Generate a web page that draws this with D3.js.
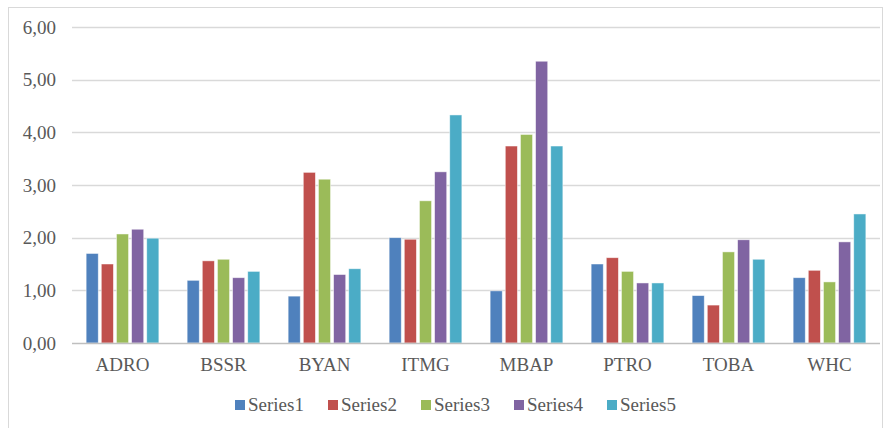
<!DOCTYPE html>
<html lang="en">
<head>
    <meta charset="UTF-8">
    <title>Clustered Bars</title>
    <script src="https://d3js.org/d3.v7.min.js"></script>
    <style>
        body {
            margin: 0;
            padding: 0;
            background-color: #fff;
            overflow: hidden;
        }
        svg text {
            font-family: "Liberation Serif", "Times New Roman", Times, "DejaVu Serif", serif !important;
            fill: #595959;
        }
    </style>
</head>
<body>
    <div id="chart"></div>

    <script>
        // Data
        const categories = ["ADRO", "BSSR", "BYAN", "ITMG", "MBAP", "PTRO", "TOBA", "WHC"];
        const seriesNames = ["Series1", "Series2", "Series3", "Series4", "Series5"];
        const series1 = [1.70, 1.19, 0.89, 2.00, 0.99, 1.50, 0.90, 1.24];
        const series2 = [1.50, 1.56, 3.24, 1.97, 3.74, 1.62, 0.72, 1.38];
        const series3 = [2.07, 1.59, 3.11, 2.70, 3.96, 1.36, 1.73, 1.16];
        const series4 = [2.16, 1.24, 1.30, 3.25, 5.35, 1.14, 1.96, 1.92];
        const series5 = [1.99, 1.36, 1.41, 4.33, 3.74, 1.14, 1.59, 2.45];
        const yTicks = [0, 1, 2, 3, 4, 5, 6];

        const allSeries = [series1, series2, series3, series4, series5];
        const colors = ["#4F81BD", "#C0504D", "#9BBB59", "#8064A2", "#4BACC6"];

        const width = 885, height = 428;
        const margin = { top: 27, right: 5, bottom: 85, left: 72 };

        const svg = d3.select("#chart").append("svg")
            .attr("width", width)
            .attr("height", height);

        // outer chart frame
        svg.append("rect")
            .attr("x", 8.5).attr("y", 7.5)
            .attr("width", 874).attr("height", 440)
            .attr("fill", "none")
            .attr("stroke", "#d9d9d9");

        const x0 = d3.scaleBand()
            .domain(categories)
            .range([margin.left, width - margin.right])
            .paddingInner(0.28)
            .paddingOuter(0.14);

        const x1 = d3.scaleBand()
            .domain(seriesNames)
            .range([0, x0.bandwidth()])
            .paddingInner(0.2);

        const y = d3.scaleLinear()
            .domain([0, 6])
            .range([height - margin.bottom, margin.top]);

        // gridlines
        svg.append("g")
            .selectAll("line")
            .data(yTicks.slice(1))
            .enter().append("line")
            .attr("x1", margin.left)
            .attr("x2", width - margin.right)
            .attr("y1", d => Math.round(y(d)) + 0.5)
            .attr("y2", d => Math.round(y(d)) + 0.5)
            .attr("stroke", "#d9d9d9")
            .attr("stroke-width", 1.3);

        // y axis labels
        const yAxis = d3.axisLeft(y)
            .tickValues(yTicks)
            .tickSize(0)
            .tickPadding(16)
            .tickFormat(d => d3.format(".2f")(d).replace(".", ","));

        svg.append("g")
            .attr("transform", `translate(${margin.left},0)`)
            .call(yAxis)
            .call(g => g.select(".domain").remove())
            .selectAll("text")
            .attr("font-size", 19)
            .attr("fill", "#595959");

        // bars
        const group = svg.append("g")
            .selectAll("g")
            .data(categories)
            .enter().append("g")
            .attr("transform", d => `translate(${x0(d)},0)`);

        group.selectAll("rect")
            .data((d, i) => allSeries.map((s, k) => ({ name: seriesNames[k], value: s[i], color: colors[k] })))
            .enter().append("rect")
            .attr("x", d => x1(d.name))
            .attr("y", d => y(d.value))
            .attr("width", x1.bandwidth())
            .attr("height", d => y(0) - y(d.value))
            .attr("fill", d => d.color)
            .attr("stroke", "#ffffff")
            .attr("stroke-opacity", 0.6)
            .attr("stroke-width", 0.8);

        // x axis baseline and labels
        const xAxis = d3.axisBottom(x0).tickSize(0).tickPadding(15);
        svg.append("g")
            .attr("transform", `translate(0,${y(0)})`)
            .call(xAxis)
            .call(g => g.select(".domain")
                .attr("stroke", "#bfbfbf")
                .attr("stroke-width", 1.3)
                .attr("d", `M${margin.left},0.5H${width - margin.right}`))
            .selectAll("text")
            .attr("font-size", 19)
            .attr("fill", "#595959");

        // legend
        const legendX = d3.scalePoint()
            .domain(seriesNames)
            .range([235, 607]);

        const legend = svg.append("g")
            .selectAll("g")
            .data(seriesNames)
            .enter().append("g")
            .attr("transform", d => `translate(${legendX(d)},405)`);

        legend.append("rect")
            .attr("x", 0).attr("y", -5)
            .attr("width", 10).attr("height", 10)
            .attr("fill", (d, i) => colors[i]);

        legend.append("text")
            .attr("x", 13)
            .attr("y", 6)
            .attr("font-size", 19)
            .text(d => d);
    </script>
</body>
</html>
